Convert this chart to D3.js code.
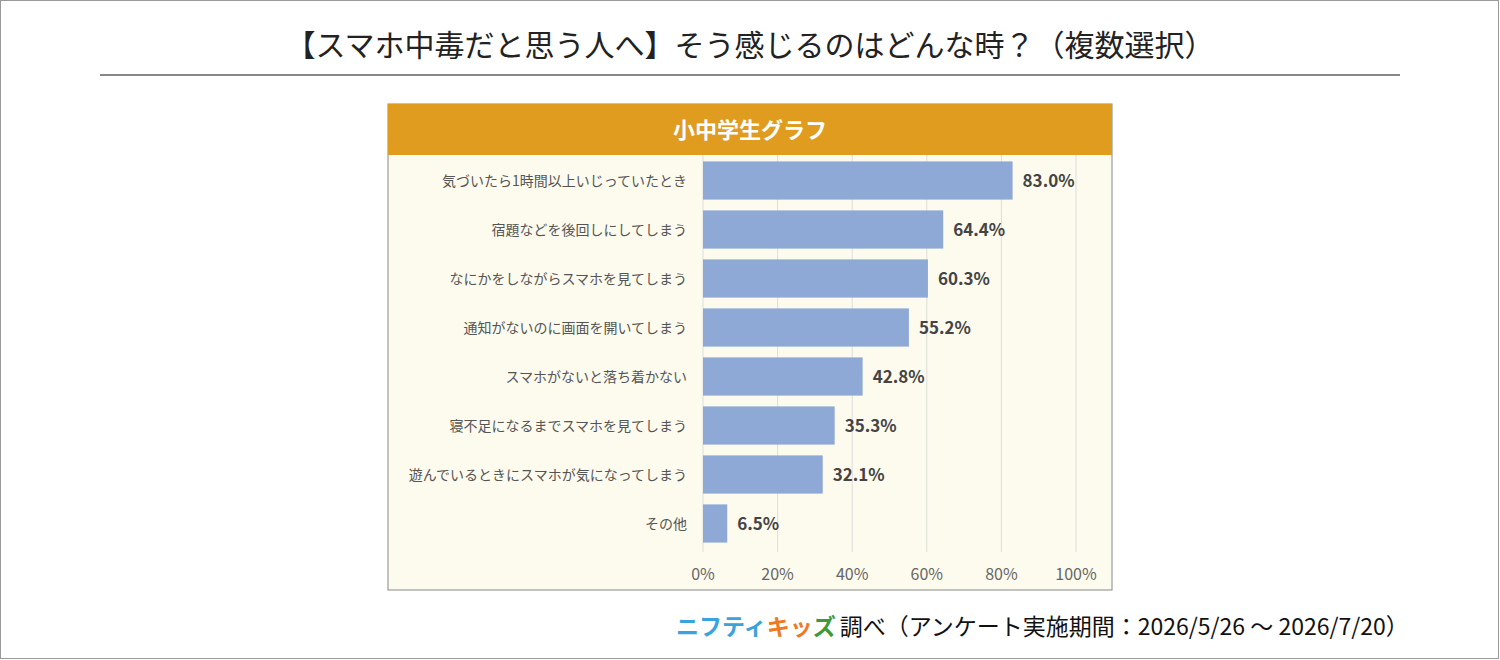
<!DOCTYPE html>
<html><head><meta charset="utf-8">
<script src="https://cdn.jsdelivr.net/npm/d3@7"></script>
<style>body{margin:0;background:#fff;font-family:"Noto Sans CJK JP","Noto Sans",sans-serif;}</style>
</head><body>
<svg width="1500" height="660"></svg>
<script>
var data = [
  {label:"気づいたら1時間以上いじっていたとき", value:83.0},
  {label:"宿題などを後回しにしてしまう", value:64.4},
  {label:"なにかをしながらスマホを見てしまう", value:60.3},
  {label:"通知がないのに画面を開いてしまう", value:55.2},
  {label:"スマホがないと落ち着かない", value:42.8},
  {label:"寝不足になるまでスマホを見てしまう", value:35.3},
  {label:"遊んでいるときにスマホが気になってしまう", value:32.1},
  {label:"その他", value:6.5}
];
var svg = d3.select("svg");
svg.append("rect").attr("x",0.5).attr("y",0.5).attr("width",1498).attr("height",658)
  .attr("fill","#fff").attr("stroke","#999");
svg.append("text").attr("x",750).attr("y",56).attr("text-anchor","middle")
  .attr("font-size",30).attr("fill","#222").text("【スマホ中毒だと思う人へ】そう感じるのはどんな時？（複数選択）");
svg.append("line").attr("x1",100).attr("x2",1400).attr("y1",75).attr("y2",75).attr("stroke","#888").attr("stroke-width",2);

// chart box
svg.append("rect").attr("x",388).attr("y",104).attr("width",724).attr("height",486)
  .attr("fill","#FDFBEE").attr("stroke","#888");
svg.append("rect").attr("x",388).attr("y",104).attr("width",724).attr("height",51).attr("fill","#E09C1E");
svg.append("text").attr("x",750).attr("y",138).attr("text-anchor","middle").attr("font-size",22)
  .attr("font-weight","bold").attr("fill","#fff").text("小中学生グラフ");

var x = d3.scaleLinear().domain([0,100]).range([703,1076]);
var y = d3.scaleBand().domain(data.map(function(d){return d.label;})).range([156,548]).paddingInner(0.22).paddingOuter(0.11);

svg.append("g").selectAll("line").data(d3.range(0,101,20)).enter().append("line")
  .attr("x1",function(d){return x(d);}).attr("x2",function(d){return x(d);})
  .attr("y1",155).attr("y2",552).attr("stroke","#ddd");
svg.append("g").selectAll("text").data(d3.range(0,101,20)).enter().append("text")
  .attr("x",function(d){return x(d);}).attr("y",580).attr("text-anchor","middle")
  .attr("font-size",16).attr("fill","#666").text(function(d){return d+"%";});

svg.append("g").selectAll("rect").data(data).enter().append("rect")
  .attr("x",x(0)).attr("y",function(d){return y(d.label);})
  .attr("width",function(d){return x(d.value)-x(0);}).attr("height",y.bandwidth())
  .attr("fill","#8EA9D6");
svg.append("g").selectAll("text").data(data).enter().append("text")
  .attr("x",x(0)-16).attr("y",function(d){return y(d.label)+y.bandwidth()/2+5;})
  .attr("text-anchor","end").attr("font-size",14).attr("fill","#555").text(function(d){return d.label;});
svg.append("g").selectAll("text").data(data).enter().append("text")
  .attr("x",function(d){return x(d.value)+10;}).attr("y",function(d){return y(d.label)+y.bandwidth()/2+6;})
  .attr("font-size",17).attr("font-weight","bold").attr("fill","#444").text(function(d){return d.value.toFixed(1)+"%";});

// footer
var f = svg.append("text").attr("x",676).attr("y",635).attr("font-size",23);
f.append("tspan").attr("fill","#3AA3DC").attr("font-weight","bold").text("ニフティ");
f.append("tspan").attr("fill","#EE7A22").attr("font-weight","bold").attr("stroke","#fff").attr("stroke-width",0).text("キッ");
f.append("tspan").attr("fill","#3C9A3A").attr("font-weight","bold").text("ズ");
f.append("tspan").attr("fill","#111").attr("dx",4).text("調べ（アンケート実施期間：2026/5/26 ～ 2026/7/20）");
</script>
</body></html>
